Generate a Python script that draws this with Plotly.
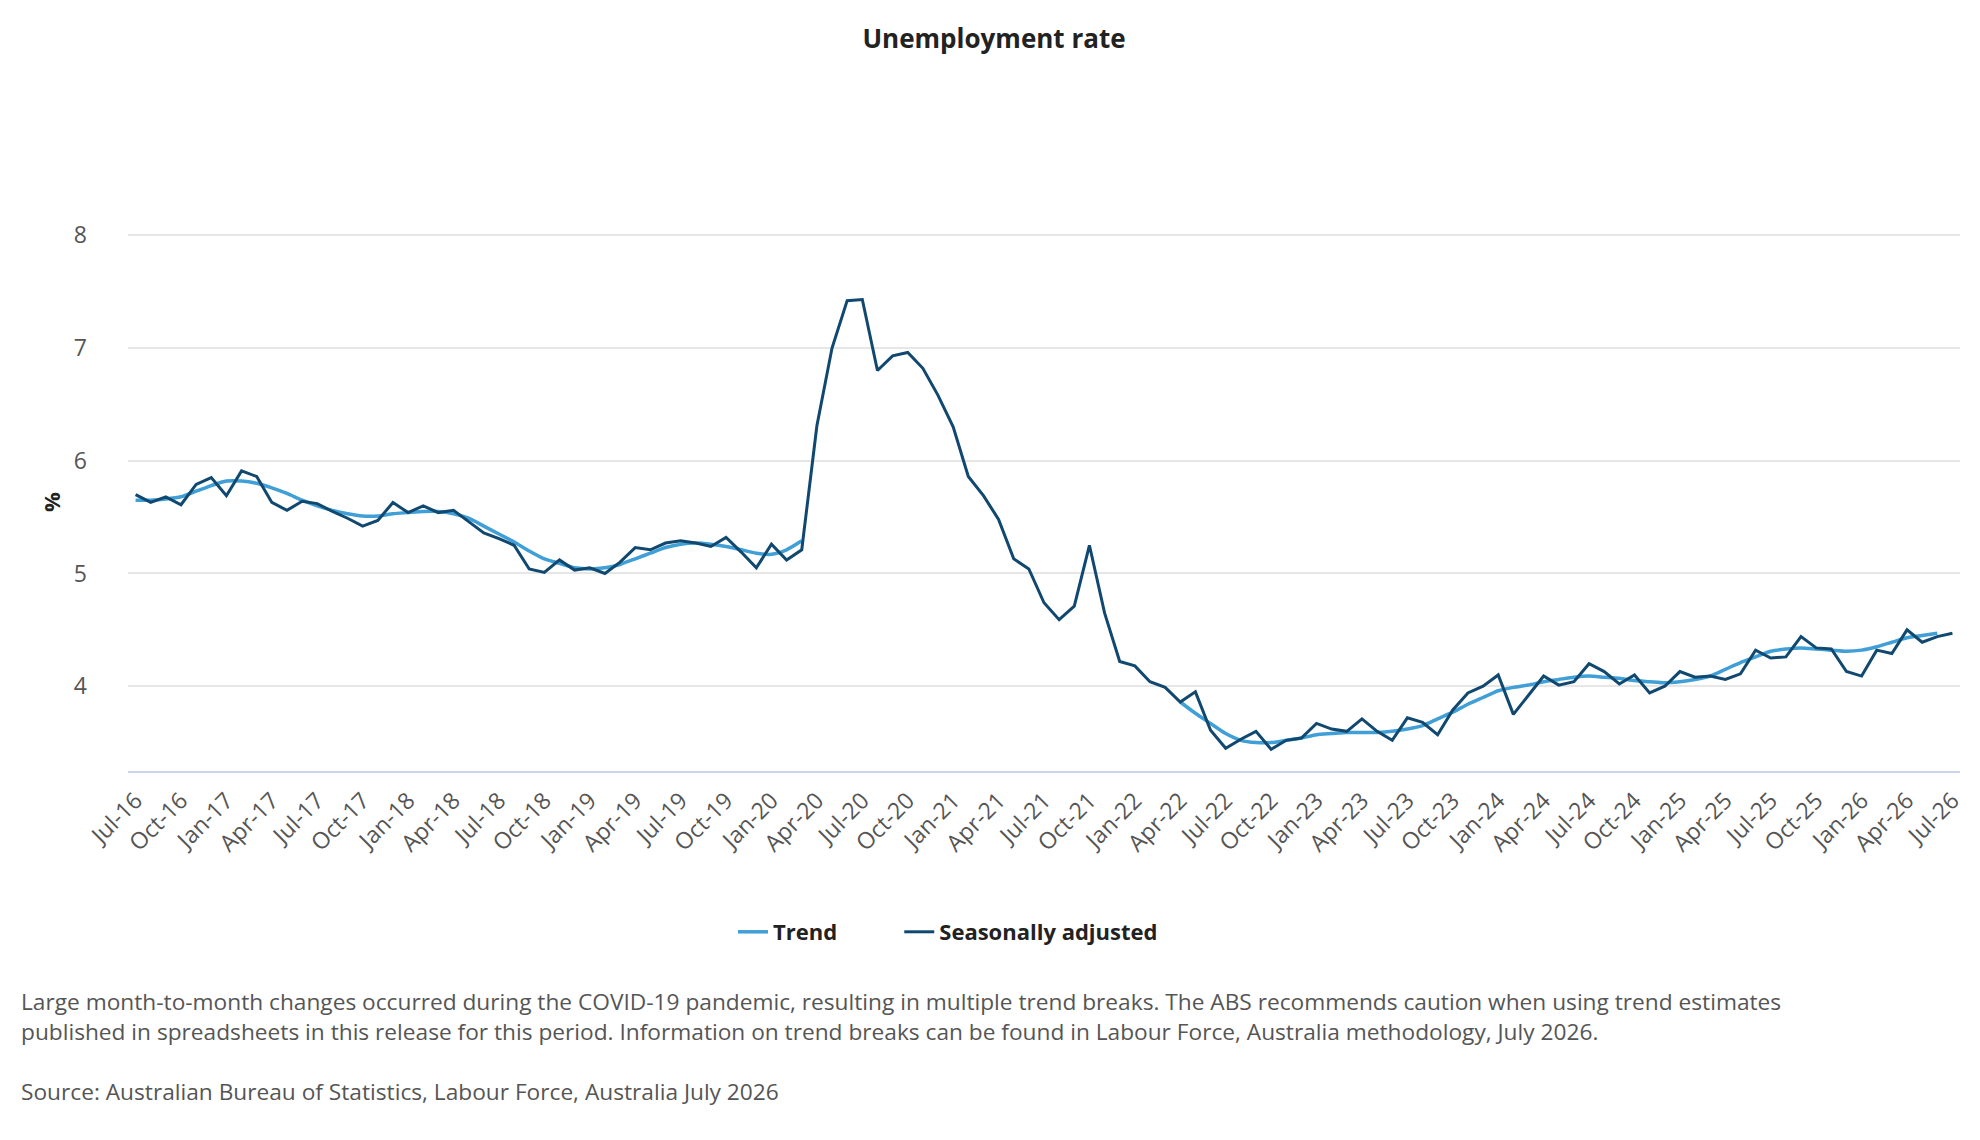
import pandas as pd
import plotly.graph_objects as go

# --- Datos: tasa de desempleo mensual, Jul-16 a Jul-26 ---
meses = pd.date_range('2016-07-01', '2026-07-01', freq='MS').strftime('%b-%y').tolist()

desest = [
    5.70, 5.63, 5.68, 5.61, 5.79, 5.85, 5.69, 5.91, 5.86, 5.63,
    5.56, 5.64, 5.62, 5.55, 5.49, 5.42, 5.47, 5.63, 5.54, 5.60,
    5.54, 5.56, 5.46, 5.36, 5.31, 5.25, 5.04, 5.01, 5.12, 5.03,
    5.05, 5.00, 5.10, 5.23, 5.21, 5.27, 5.29, 5.27, 5.24, 5.32,
    5.19, 5.05, 5.26, 5.12, 5.21, 6.31, 7.00, 7.42, 7.43, 6.80,
    6.93, 6.96, 6.82, 6.58, 6.30, 5.86, 5.69, 5.48, 5.13, 5.04,
    4.74, 4.59, 4.71, 5.25, 4.65, 4.22, 4.18, 4.04, 3.99, 3.86,
    3.95, 3.61, 3.45, 3.53, 3.60, 3.44, 3.52, 3.54, 3.67, 3.62,
    3.60, 3.71, 3.60, 3.52, 3.72, 3.68, 3.57, 3.79, 3.94, 4.00,
    4.10, 3.75, 3.92, 4.09, 4.01, 4.04, 4.20, 4.13, 4.02, 4.10,
    3.94, 4.00, 4.13, 4.08, 4.09, 4.06, 4.11, 4.32, 4.25, 4.26,
    4.44, 4.34, 4.33, 4.13, 4.09, 4.32, 4.29, 4.50, 4.39, 4.44,
    4.47,
]

# tendencia: sin estimaciones durante la pandemia (Apr-20 a Mar-22)
tendencia = [
    5.65, 5.65, 5.66, 5.68, 5.73, 5.78, 5.82, 5.82, 5.80, 5.76,
    5.71, 5.65, 5.60, 5.56, 5.53, 5.51, 5.51, 5.53, 5.54, 5.55,
    5.55, 5.53, 5.49, 5.42, 5.35, 5.28, 5.20, 5.13, 5.09, 5.05,
    5.04, 5.05, 5.08, 5.13, 5.18, 5.23, 5.26, 5.27, 5.26, 5.24,
    5.21, 5.18, 5.17, 5.21, 5.29,
    None, None, None, None, None, None, None, None, None, None,
    None, None, None, None, None, None, None, None, None, None,
    None, None, None, None,
    3.86, 3.76, 3.67, 3.58, 3.52, 3.50, 3.50, 3.52, 3.54, 3.57,
    3.58, 3.59, 3.59, 3.59, 3.60, 3.62, 3.65, 3.71, 3.77, 3.84,
    3.90, 3.96, 3.99, 4.01, 4.04, 4.06, 4.08, 4.09, 4.08, 4.07,
    4.05, 4.04, 4.03, 4.04, 4.06, 4.09, 4.15, 4.21, 4.26, 4.31,
    4.33, 4.34, 4.33, 4.32, 4.31, 4.32, 4.35, 4.39, 4.43, 4.45,
    4.47,
]

etiquetas = meses[::3]

AZUL_CLARO = '#3f9fd6'
AZUL_OSCURO = '#114870'
FUENTE = 'Open Sans'

# la pagina deja 8px de margen en el body
ANCHO, ALTO = 1972, 1132
M_IZQ, M_SUP, M_INF, M_DER = 120, 225, 369, 20
alto_plot = ALTO - M_SUP - M_INF
ancho_plot = ANCHO - M_IZQ - M_DER
base_plot = ALTO - M_INF  # borde inferior del area de trazado, en px


def y_papel(ypix):
    # ypix medido en la captura (1980x1140), se resta el margen del body
    return (base_plot - (ypix - 8)) / alto_plot


def x_papel(xpix):
    return (xpix - 8 - M_IZQ) / ancho_plot


fig = go.Figure()
fig.add_trace(go.Scatter(
    x=meses, y=tendencia, mode='lines', name='<b>Trend</b>' + '&nbsp;' * 10,
    line=dict(color=AZUL_CLARO, width=3.5, shape='spline', smoothing=0.6),
    connectgaps=False,
))
fig.add_trace(go.Scatter(
    x=meses, y=desest, mode='lines', name='<b>Seasonally adjusted</b>',
    line=dict(color=AZUL_OSCURO, width=3),
))

fig.update_layout(
    width=ANCHO, height=ALTO,
    margin=dict(l=M_IZQ, r=M_DER, t=M_SUP, b=M_INF),
    paper_bgcolor='white', plot_bgcolor='white',
    font=dict(family=FUENTE, color='#555555'),
    title=dict(text='<b>Unemployment rate</b>', x=0.5, xanchor='center',
               y=1 - 31 / ALTO, yanchor='middle',
               font=dict(size=26, color='#222222', family=FUENTE)),
    showlegend=True,
    legend=dict(orientation='h', x=x_papel(948), xanchor='center',
                y=y_papel(932), yanchor='middle',
                font=dict(size=22, color='#222222', family=FUENTE),
                tracegroupgap=0),
    hovermode='x unified',
)

fig.update_xaxes(
    type='category', range=[-0.5, len(meses) - 0.5],
    tickmode='array', tickvals=etiquetas, ticktext=etiquetas,
    tickangle=-45, tickfont=dict(size=23, color='#555555'),
    showgrid=False, showline=True, linecolor='#ccd6eb', linewidth=2,
    ticks='', ticklabelstandoff=5, zeroline=False,
)
fig.update_yaxes(
    range=[3.248, 8.02], tickvals=[4, 5, 6, 7, 8],
    tickfont=dict(size=23, color='#555555'),
    showgrid=True, gridcolor='#e6e6e6', gridwidth=1.5,
    showline=False, zeroline=False, ticks='', ticklabelstandoff=40,
)

# titulo del eje y
fig.add_annotation(text='<b>%</b>', xref='paper', yref='paper',
                   x=x_papel(51), xanchor='center', y=0.5, yanchor='middle',
                   textangle=-90, showarrow=False,
                   font=dict(size=22, color='#222222', family=FUENTE))

# notas al pie
nota = ('Large month-to-month changes occurred during the COVID-19 pandemic, resulting in '
        'multiple trend breaks. The ABS recommends caution when using trend estimates<br>'
        'published in spreadsheets in this release for this period. Information on trend '
        'breaks can be found in Labour Force, Australia methodology, July 2026.')
fuente = 'Source: Australian Bureau of Statistics, Labour Force, Australia July 2026'
for texto, ypix in [(nota, 1016.5), (fuente, 1091)]:
    fig.add_annotation(text=texto, xref='paper', yref='paper',
                       x=x_papel(20), xanchor='left',
                       y=y_papel(ypix), yanchor='middle',
                       showarrow=False, align='left', borderpad=0,
                       font=dict(size=22.7, color='#555555', family=FUENTE))

fig.write_html('out.html')
